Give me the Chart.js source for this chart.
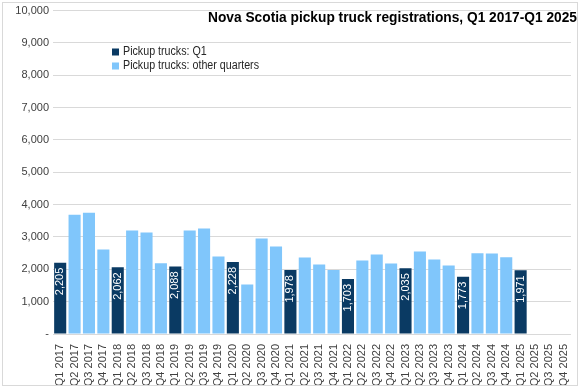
<!DOCTYPE html>
<html>
<head>
<meta charset="utf-8">
<script src="https://cdn.jsdelivr.net/npm/chart.js@4"></script>
<style>
  html, body { margin: 0; padding: 0; background: #fff; }
  #wrap { width: 579px; height: 387px; }
</style>
</head>
<body>
<div id="wrap"><canvas id="truckChart"></canvas></div>
<script>
// Quarters and years on the x axis
const years = ['2017', '2018', '2019', '2020', '2021', '2022', '2023', '2024', '2025'];
const quarters = ['Q1', 'Q2', 'Q3', 'Q4'];

// Q1 registrations, one per year
const q1Values = [2205, 2062, 2088, 2228, 1978, 1703, 2035, 1773, 1971];
// Q2, Q3, Q4 registrations per year (2025 not yet reported)
const otherValues = [
    [3685, 3747, 2614],
    [3200, 3139, 2191],
    [3200, 3262, 2398],
    [1534, 2954, 2707],
    [2367, 2151, 1976],
    [2274, 2459, 2181],
    [2552, 2305, 2120],
    [2500, 2490, 2377],
    [null, null, null]
];

const yTicks = [0, 1000, 2000, 3000, 4000, 5000, 6000, 7000, 8000, 9000, 10000];

const titleText = 'Nova Scotia pickup truck registrations, Q1 2017-Q1 2025';
const q1Color = '#0a3a63';
const otherColor = '#80c6fb';

// build category labels and the two aligned series
const categories = [];
const q1Series = [];
const otherSeries = [];
years.forEach(function(y, i) {
    quarters.forEach(function(q, j) {
        categories.push(q + ' ' + y);
        q1Series.push(j === 0 ? q1Values[i] : null);
        otherSeries.push(j === 0 ? null : otherValues[i][j - 1]);
    });
});

const fmt = new Intl.NumberFormat('en-US');

// draw text squeezed to a given width (the original uses a narrow font)
function fitText(ctx, text, right, y, width) {
    const w = ctx.measureText(text).width;
    const sx = Math.min(1, width / w);
    ctx.save();
    ctx.translate(right, y);
    ctx.scale(sx, 1);
    ctx.textAlign = 'right';
    ctx.fillText(text, 0, 0);
    ctx.restore();
}

// title, legend, data labels and outer border
const decorations = {
    id: 'decorations',
    afterDatasetsDraw(chart) {
        const ctx = chart.ctx;

        // labels inside Q1 bars
        const meta = chart.getDatasetMeta(0);
        ctx.save();
        ctx.fillStyle = '#ffffff';
        ctx.font = '11px "Liberation Sans", Arial, sans-serif';
        ctx.textAlign = 'right';
        ctx.textBaseline = 'middle';
        meta.data.forEach(function(bar, i) {
            const v = chart.data.datasets[0].data[i];
            if (v == null) return;
            ctx.save();
            ctx.translate(bar.x, bar.y + 5);
            ctx.rotate(-Math.PI / 2);
            ctx.fillText(fmt.format(v), 0, 0);
            ctx.restore();
        });
        ctx.restore();
    },
    afterDraw(chart) {
        const ctx = chart.ctx;
        ctx.save();

        // title
        ctx.fillStyle = '#000000';
        ctx.font = 'bold 15px "Liberation Sans", Arial, sans-serif';
        ctx.textBaseline = 'middle';
        fitText(ctx, titleText, 577, 18, 369);

        // legend
        ctx.font = '12px "Liberation Sans", Arial, sans-serif';
        ctx.textAlign = 'left';
        chart.data.datasets.forEach(function(ds, i) {
            const y = 52 + i * 14;
            ctx.fillStyle = ds.backgroundColor;
            ctx.fillRect(112, y - 3.5, 7, 7);
            ctx.fillStyle = '#262626';
            ctx.save();
            ctx.translate(123, y);
            ctx.scale(136 / ctx.measureText(chart.data.datasets[1].label).width, 1);
            ctx.fillText(ds.label, 0, 0);
            ctx.restore();
        });

        // outer border
        ctx.strokeStyle = '#d9d9d9';
        ctx.lineWidth = 1;
        ctx.strokeRect(2.5, 2.5, 575, 383);
        ctx.restore();
    }
};

const ctx = document.getElementById('truckChart').getContext('2d');
new Chart(ctx, {
    type: 'bar',
    data: {
        labels: categories,
        datasets: [
            {
                label: 'Pickup trucks: Q1',
                data: q1Series,
                backgroundColor: q1Color,
                grouped: false
            },
            {
                label: 'Pickup trucks: other quarters',
                data: otherSeries,
                backgroundColor: otherColor,
                grouped: false
            }
        ]
    },
    plugins: [decorations],
    options: {
        responsive: true,
        maintainAspectRatio: false,
        animation: false,
        devicePixelRatio: 1,
        layout: { padding: { left: 3, right: 1, top: 9, bottom: 2 } },
        datasets: {
            bar: { barPercentage: 0.84, categoryPercentage: 1 }
        },
        plugins: {
            legend: { display: false },
            title: { display: false },
            tooltip: { enabled: false }
        },
        scales: {
            x: {
                grid: { display: false },
                border: { display: false },
                ticks: {
                    autoSkip: false,
                    minRotation: 90,
                    maxRotation: 90,
                    padding: 2,
                    color: '#404040',
                    font: { family: '"Liberation Sans", Arial, sans-serif', size: 11 }
                },
                afterFit(scale) { scale.height = 51; }
            },
            y: {
                min: 0,
                max: 10000,
                afterBuildTicks(scale) {
                    scale.ticks = yTicks.map(function(v) { return { value: v }; });
                },
                grid: { color: '#d9d9d9', drawTicks: false },
                border: { display: false },
                ticks: {
                    padding: 4,
                    color: '#404040',
                    font: { family: '"Liberation Sans", Arial, sans-serif', size: 11 },
                    callback: function(v) { return v === 0 ? '-' : fmt.format(v); }
                },
                afterFit(scale) { scale.width = 50; }
            }
        }
    }
});
</script>
</body>
</html>
